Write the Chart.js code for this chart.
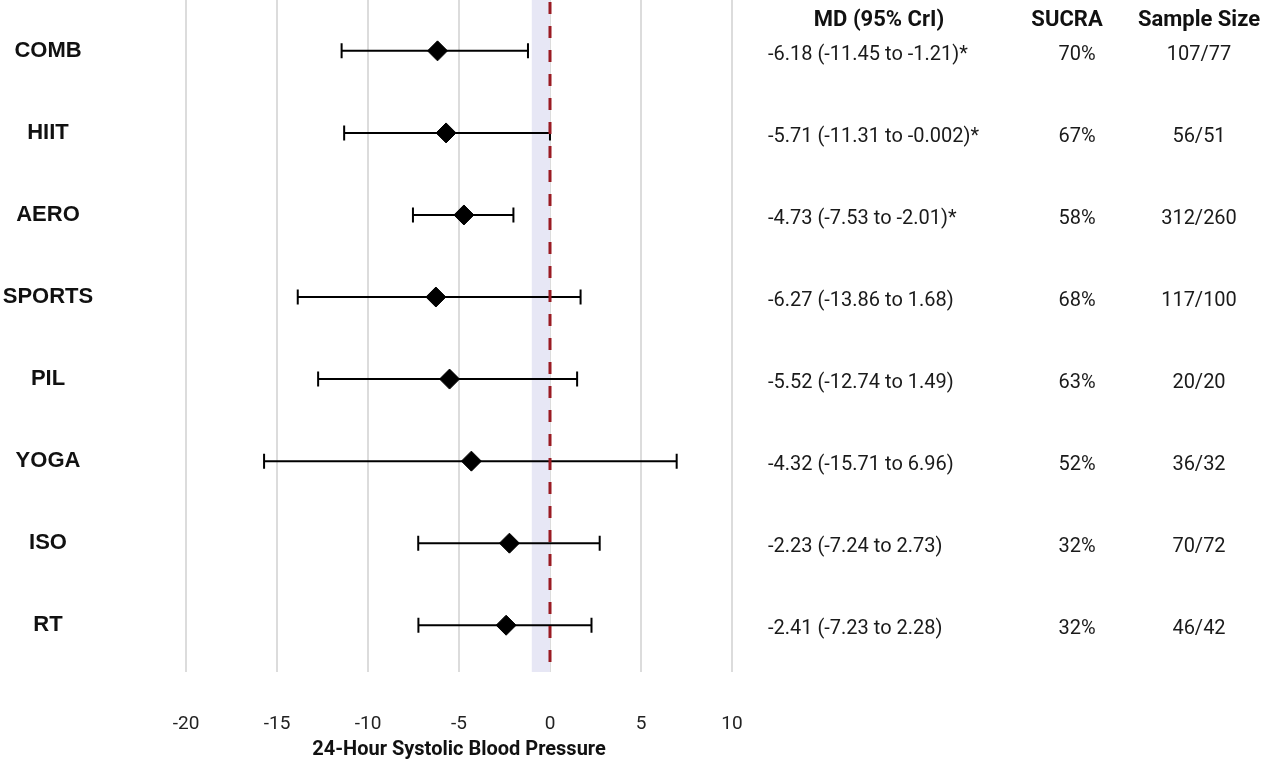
<!DOCTYPE html>
<html>
<head>
<meta charset="utf-8">
<script src="https://cdn.jsdelivr.net/npm/chart.js@4.4.1/dist/chart.umd.min.js"></script>
<style>
  html, body { margin: 0; padding: 0; background: #fff; }
  #wrap { width: 1280px; height: 762px; position: relative; }
</style>
</head>
<body>
<div id="wrap"><canvas id="c"></canvas></div>
<script>
const categories = ['COMB', 'HIIT', 'AERO', 'SPORTS', 'PIL', 'YOGA', 'ISO', 'RT'];
const md = [-6.18, -5.71, -4.73, -6.27, -5.52, -4.32, -2.23, -2.41];
const lower = [-11.45, -11.31, -7.53, -13.86, -12.74, -15.71, -7.24, -7.23];
const upper = [-1.21, -0.002, -2.01, 1.68, 1.49, 6.96, 2.73, 2.28];
const sucra = ['70%', '67%', '58%', '68%', '63%', '52%', '32%', '32%'];
const sampleSize = ['107/77', '56/51', '312/260', '117/100', '20/20', '36/32', '70/72', '46/42'];
const xTicks = [-20, -15, -10, -5, 0, 5, 10];
const bandRange = [-1, 0];
const refValue = 0;
const headers = ['MD (95% CrI)', 'SUCRA', 'Sample Size'];
const axisTitle = '24-Hour Systolic Blood Pressure';

const mdText = md.map((v, i) => `${v} (${lower[i]} to ${upper[i]})${upper[i] < 0 ? '*' : ''}`);

const forestPlugin = {
  id: 'forest',
  beforeDatasetsDraw(chart) {
    const { ctx, chartArea, scales: { x, y } } = chart;
    ctx.save();
    ctx.fillStyle = '#e7e7f5';
    const bx0 = x.getPixelForValue(bandRange[0]);
    const bx1 = x.getPixelForValue(bandRange[1]);
    ctx.fillRect(bx0, chartArea.top, bx1 - bx0, chartArea.bottom - chartArea.top);
    ctx.strokeStyle = '#000';
    ctx.lineWidth = 2;
    categories.forEach((c, i) => {
      const py = y.getPixelForValue(i);
      const x0 = x.getPixelForValue(lower[i]);
      const x1 = x.getPixelForValue(upper[i]);
      ctx.beginPath();
      ctx.moveTo(x0, py); ctx.lineTo(x1, py);
      ctx.moveTo(x0, py - 7.5); ctx.lineTo(x0, py + 7.5);
      ctx.moveTo(x1, py - 7.5); ctx.lineTo(x1, py + 7.5);
      ctx.stroke();
    });
    ctx.restore();
  },
  afterDatasetsDraw(chart) {
    const { ctx, chartArea, scales: { x } } = chart;
    ctx.save();
    ctx.strokeStyle = '#9a1b23';
    ctx.lineWidth = 3;
    ctx.setLineDash([12, 12]);
    ctx.lineDashOffset = -2;
    const rx = x.getPixelForValue(refValue);
    ctx.beginPath();
    ctx.moveTo(rx, chartArea.top);
    ctx.lineTo(rx, chartArea.bottom);
    ctx.stroke();
    ctx.restore();
  },
  afterDraw(chart) {
    const { ctx, scales: { y } } = chart;
    ctx.save();
    ctx.fillStyle = '#111';
    ctx.textBaseline = 'middle';
    ctx.font = 'bold 22px Roboto';
    ctx.textAlign = 'center';
    ctx.fillText(headers[0], 879, 20);
    ctx.fillText(headers[1], 1067, 20);
    ctx.fillText(headers[2], 1199, 20);
    categories.forEach((c, i) => {
      const py = y.getPixelForValue(i);
      ctx.font = 'bold 22px "Liberation Sans"';
      ctx.textAlign = 'center';
      ctx.fillStyle = '#111';
      ctx.fillText(c, 48, py);
      ctx.font = '20px Roboto';
      ctx.fillStyle = '#1a1a1a';
      ctx.textAlign = 'left';
      ctx.fillText(mdText[i], 768, py + 4);
      ctx.textAlign = 'center';
      ctx.fillText(sucra[i], 1077, py + 4);
      ctx.fillText(sampleSize[i], 1199, py + 4);
    });
    ctx.restore();
  }
};

new Chart(document.getElementById('c'), {
  type: 'scatter',
  data: {
    datasets: [{
      data: md.map((v, i) => ({ x: v, y: i })),
      pointStyle: 'rectRot',
      pointRadius: 10,
      pointHoverRadius: 10,
      backgroundColor: '#000',
      borderColor: '#000',
      borderWidth: 1
    }]
  },
  options: {
    responsive: true,
    maintainAspectRatio: false,
    animation: false,
    events: [],
    layout: { autoPadding: false, padding: { left: 186, right: 548, top: 0, bottom: 0 } },
    plugins: { legend: { display: false }, tooltip: { enabled: false } },
    scales: {
      x: {
        type: 'linear',
        min: xTicks[0],
        max: xTicks[xTicks.length - 1],
        afterBuildTicks(scale) { scale.ticks = xTicks.map(v => ({ value: v })); },
        afterFit(scale) { scale.height = 90; },
        ticks: { font: { family: 'Roboto', size: 19 }, color: '#222', padding: 41 },
        grid: { color: '#dcdcdc', lineWidth: 2, drawTicks: false },
        border: { display: false },
        title: {
          display: true,
          text: axisTitle,
          font: { family: 'Roboto', size: 20, weight: 'bold' },
          color: '#111',
          padding: { top: 0, bottom: 0 }
        }
      },
      y: {
        type: 'linear',
        min: -0.62,
        max: 7.57,
        reverse: true,
        display: false
      }
    }
  },
  plugins: [forestPlugin]
});
</script>
</body>
</html>
